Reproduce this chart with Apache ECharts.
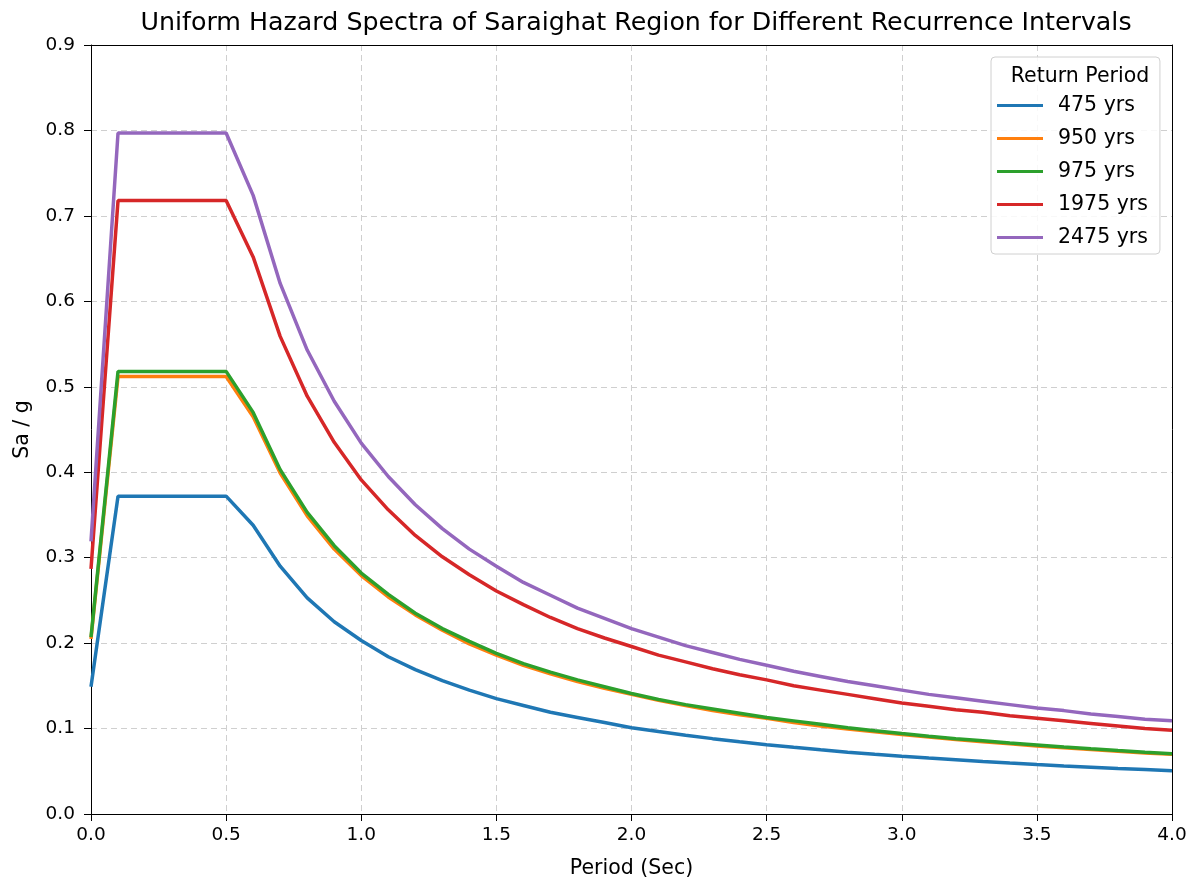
<!DOCTYPE html>
<html>
<head>
<meta charset="utf-8">
<script src="https://cdn.jsdelivr.net/npm/echarts@6/dist/echarts.min.js"></script>
<style>html,body{margin:0;padding:0;background:#fff}#c{width:1200px;height:883px}</style>
</head>
<body>
<div id="c"></div>
<script>
const periods = [0.0,0.1,0.2,0.3,0.4,0.5,0.6,0.7,0.8,0.9,1.0,1.1,1.2,1.3,1.4,1.5,1.6,1.7,1.8,1.9,2.0,2.1,2.2,2.3,2.4,2.5,2.6,2.7,2.8,2.9,3.0,3.1,3.2,3.3,3.4,3.5,3.6,3.7,3.8,3.9,4.0];
const seriesNames = ['475 yrs','950 yrs','975 yrs','1975 yrs','2475 yrs'];
const sa475 = [0.149,0.372,0.372,0.372,0.372,0.372,0.338,0.290,0.253,0.225,0.203,0.184,0.169,0.156,0.145,0.135,0.127,0.119,0.113,0.107,0.101,0.0965,0.0921,0.0882,0.0845,0.0811,0.0780,0.0751,0.0724,0.0699,0.0676,0.0654,0.0634,0.0614,0.0596,0.0579,0.0563,0.0548,0.0533,0.0520,0.0507];
const sa950 = [0.205,0.512,0.512,0.512,0.512,0.512,0.465,0.399,0.349,0.310,0.279,0.254,0.233,0.215,0.199,0.186,0.174,0.164,0.155,0.147,0.140,0.133,0.127,0.121,0.116,0.112,0.107,0.103,0.0996,0.0962,0.0930,0.0900,0.0872,0.0846,0.0821,0.0797,0.0775,0.0754,0.0734,0.0715,0.0698];
const sa975 = [0.207,0.518,0.518,0.518,0.518,0.518,0.470,0.403,0.353,0.314,0.282,0.257,0.235,0.217,0.202,0.188,0.176,0.166,0.157,0.149,0.141,0.134,0.128,0.123,0.118,0.113,0.109,0.105,0.101,0.0973,0.0941,0.0911,0.0882,0.0856,0.0830,0.0807,0.0784,0.0763,0.0743,0.0724,0.0706];
const sa1975 = [0.287,0.718,0.718,0.718,0.718,0.718,0.652,0.559,0.489,0.435,0.391,0.356,0.326,0.301,0.280,0.261,0.245,0.230,0.217,0.206,0.196,0.186,0.178,0.170,0.163,0.157,0.150,0.145,0.140,0.135,0.130,0.126,0.122,0.119,0.115,0.112,0.109,0.106,0.103,0.100,0.0979];
const sa2475 = [0.319,0.797,0.797,0.797,0.797,0.797,0.724,0.621,0.543,0.483,0.434,0.395,0.362,0.334,0.310,0.290,0.271,0.256,0.241,0.229,0.217,0.207,0.197,0.189,0.181,0.174,0.167,0.161,0.155,0.150,0.145,0.140,0.136,0.132,0.128,0.124,0.121,0.117,0.114,0.111,0.109];
const allValues = [sa475, sa950, sa975, sa1975, sa2475];
const colors = ['#1f77b4','#ff7f0e','#2ca02c','#d62728','#9467bd'];

const font = 'DejaVu Sans';
const chart = echarts.init(document.getElementById('c'), null, {renderer:'canvas'});
const series = seriesNames.map((name, i) => ({
  name: name,
  type: 'line',
  showSymbol: false,
  symbol: 'none',
  lineStyle: {width: 3.5, color: colors[i]},
  itemStyle: {color: colors[i]},
  data: periods.map((p, j) => [p, allValues[i][j]]),
  z: 2 + i,
  animation: false
}));

const hiddenAxisBits = {
  axisTick: {show: false}, axisLabel: {show: false}, splitLine: {show: false},
  axisLine: {show: true, onZero: false, lineStyle: {color: '#000', width: 1}}
};

chart.setOption({
  animation: false,
  backgroundColor: '#fff',
  title: [{
    text: 'Uniform Hazard Spectra of Saraighat Region for Different Recurrence Intervals',
    left: 631, top: 6, textAlign: 'center',
    textStyle: {fontFamily: font, fontSize: 25.3, fontWeight: 'normal', color: '#000'}
  }, {
    text: 'Return Period',
    left: 1075, top: 61, textAlign: 'center', z: 30,
    textStyle: {fontFamily: font, fontSize: 20.5, fontWeight: 'normal', color: '#000'}
  }],
  legend: {
    orient: 'vertical',
    left: 991, top: 57,
    padding: [38, 12, 6, 6],
    backgroundColor: 'rgba(255,255,255,0.85)',
    borderColor: '#d0d0d0', borderWidth: 1, borderRadius: 4,
    itemWidth: 46, itemHeight: 3,
    itemGap: 12,
    icon: 'rect',
    z: 20,
    data: seriesNames,
    textStyle: {fontFamily: font, fontSize: 20.5, color: '#000', lineHeight: 20, padding: [0,0,0,10]}
  },
  grid: {
    left: 91, right: 28, top: 45, bottom: 69,
    containLabel: false,
    outerBoundsMode: 'none'
  },
  xAxis: [{
    type: 'value', min: 0, max: 4, interval: 0.5,
    name: 'Period (Sec)', nameLocation: 'middle', nameGap: 44,
    nameTextStyle: {fontFamily: font, fontSize: 20.5, color: '#000'},
    axisLine: {show: true, onZero: false, lineStyle: {color: '#000', width: 1}},
    axisTick: {show: true, inside: false, length: 7, lineStyle: {color: '#000'}},
    axisLabel: {fontFamily: font, fontSize: 18.5, color: '#000', margin: 12, formatter: v => v.toFixed(1)},
    splitLine: {show: true, lineStyle: {color: '#cfcfcf', type: [6, 4], width: 1}}
  }, Object.assign({type: 'value', min: 0, max: 4, position: 'top'}, hiddenAxisBits)],
  yAxis: [{
    type: 'value', min: 0, max: 0.9, interval: 0.1,
    name: 'Sa / g', nameLocation: 'middle', nameGap: 58, nameRotate: 90,
    nameTextStyle: {fontFamily: font, fontSize: 20.5, color: '#000'},
    axisLine: {show: true, onZero: false, lineStyle: {color: '#000', width: 1}},
    axisTick: {show: true, inside: false, length: 7, lineStyle: {color: '#000'}},
    axisLabel: {fontFamily: font, fontSize: 18.5, color: '#000', margin: 16, formatter: v => v.toFixed(1)},
    splitLine: {show: true, lineStyle: {color: '#cfcfcf', type: [6, 4], width: 1}}
  }, Object.assign({type: 'value', min: 0, max: 0.9, position: 'right'}, hiddenAxisBits)],
  series: series
});
</script>
</body>
</html>
